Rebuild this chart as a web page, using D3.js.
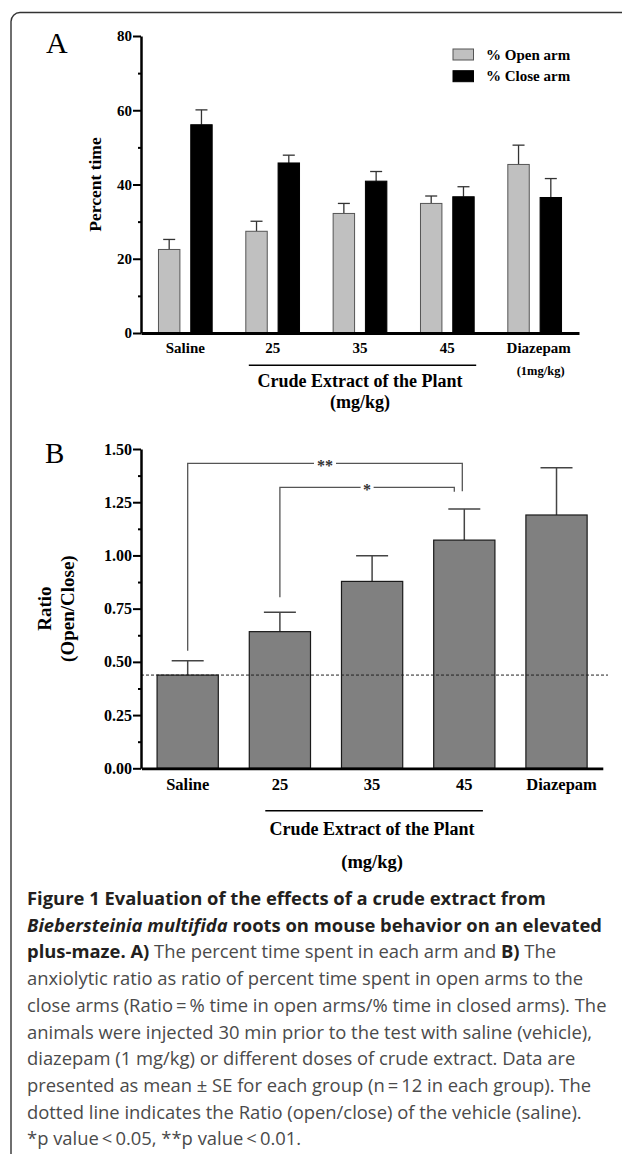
<!DOCTYPE html>
<html>
<head>
<meta charset="utf-8">
<script src="https://cdn.jsdelivr.net/npm/d3@7"></script>
<style>
  body { margin: 0; background: #fff; }
  svg { display: block; }
  .ser { font-family: "Liberation Serif", "Times New Roman", serif; font-weight: bold; fill: #000; }
  .axis path, .axis line { stroke: #000; }
  .axis text { font-family: "Liberation Serif", "Times New Roman", serif; font-weight: bold; fill: #000; }
  .cap { font-family: "Open Sans", "Noto Sans", sans-serif; }
</style>
</head>
<body>
<svg id="fig" width="622" height="1154"></svg>
<script>
// ── Data ──────────────────────────────────────────────────────────────────
// Panel A: percent time in each arm
const groupsA   = ['Saline', '25', '35', '45', 'Diazepam'];
const seriesA   = ['% Open arm', '% Close arm'];
const openMean  = [22.5, 27.4, 32.2, 34.9, 45.4];
const openSE    = [2.7, 2.7, 2.7, 2.0, 5.2];
const closeMean = [56.1, 45.8, 40.9, 36.7, 36.5];
const closeSE   = [4.0, 2.1, 2.6, 2.7, 5.1];
const yTicksA   = [0, 20, 40, 60, 80];
const yMinorA   = [10, 30, 50, 70];

// Panel B: ratio open / close
const groupsB   = ['Saline', '25', '35', '45', 'Diazepam'];
const ratioMean = [0.438, 0.642, 0.878, 1.072, 1.190];
const ratioSE   = [0.067, 0.091, 0.121, 0.146, 0.222];
const yTicksB   = [0, 0.25, 0.5, 0.75, 1.0, 1.25, 1.5];
const yMinorB   = [0.125, 0.375, 0.625, 0.875, 1.125, 1.375];
const vehicleRatio = 0.438;
// significance brackets: level of bar, where each leg stops
const comparisons = [
  { a: 'Saline', b: '45', label: '**', level: 1.432, aEnd: 0.552, bEnd: 1.302, bShift: -2 },
  { a: '25',     b: '45', label: '*',  level: 1.320, aEnd: 0.803, bEnd: 1.299, bShift: -10 }
];

// Caption lines: [text, style]  b = bold, bi = bold italic, n = normal
const captionLines = [
  [['Figure 1 Evaluation of the effects of a crude extract from', 'b']],
  [['Biebersteinia multifida', 'bi'], [' roots on mouse behavior on an elevated', 'b']],
  [['plus-maze. A)', 'b'], [' The percent time spent in each arm and ', 'n'], ['B)', 'b'], [' The', 'n']],
  [['anxiolytic ratio as ratio of percent time spent in open arms to the', 'n']],
  [['close arms (Ratio\u2009=\u2009% time in open arms/% time in closed arms). The', 'n']],
  [['animals were injected 30 min prior to the test with saline (vehicle),', 'n']],
  [['diazepam (1 mg/kg) or different doses of crude extract. Data are', 'n']],
  [['presented as mean \u00b1 SE for each group (n\u2009=\u200912 in each group). The', 'n']],
  [['dotted line indicates the Ratio (open/close) of the vehicle (saline).', 'n']],
  [['*p value\u2009<\u20090.05, **p value\u2009<\u20090.01.', 'n']]
];

const svg = d3.select('#fig');

// outer frame (rounded, runs off right and bottom)
svg.append('rect')
  .attr('x', 11).attr('y', 12.5)
  .attr('width', 650).attr('height', 1200)
  .attr('rx', 9)
  .attr('fill', 'none')
  .attr('stroke', '#333')
  .attr('stroke-width', 1.4);

// ── Panel A ───────────────────────────────────────────────────────────────

const xA = d3.scaleBand().domain(groupsA).range([141, 579]).paddingInner(0.385).paddingOuter(0.2);
const xAi = d3.scaleBand().domain(seriesA).range([0, xA.bandwidth()]).paddingInner(0.336);
const yA = d3.scaleLinear().domain([0, 80]).range([333, 36]);

svg.append('text').attr('class', 'ser').attr('x', 46).attr('y', 53)
  .style('font-weight', 'normal').style('font-size', '30px').text('A');

const rowsA = groupsA.map((g, i) => [
  { g, s: seriesA[0], v: openMean[i],  e: openSE[i] },
  { g, s: seriesA[1], v: closeMean[i], e: closeSE[i] }
]).flat();

const fillA = d3.scaleOrdinal().domain(seriesA).range(['#c0c0c0', '#000']);

// error bars (upper only)
const errA = svg.append('g');
rowsA.forEach(d => {
  const cx = xA(d.g) + xAi(d.s) + xAi.bandwidth() / 2;
  errA.append('line').attr('x1', cx).attr('x2', cx)
    .attr('y1', yA(d.v)).attr('y2', yA(d.v + d.e))
    .attr('stroke', '#333').attr('stroke-width', 1.3);
  errA.append('line').attr('x1', cx - 6).attr('x2', cx + 6)
    .attr('y1', yA(d.v + d.e)).attr('y2', yA(d.v + d.e))
    .attr('stroke', '#333').attr('stroke-width', 1.3);
});

svg.append('g').selectAll('rect')
  .data(rowsA).enter().append('rect')
  .attr('x', d => xA(d.g) + xAi(d.s))
  .attr('y', d => yA(d.v))
  .attr('width', xAi.bandwidth())
  .attr('height', d => yA(0) - yA(d.v))
  .attr('fill', d => fillA(d.s))
  .attr('stroke', d => d.s === seriesA[0] ? '#555' : '#000')
  .attr('stroke-width', 1);

// axes
svg.append('g').attr('class', 'axis')
  .attr('transform', 'translate(141,0)')
  .call(d3.axisLeft(yA).tickValues(yMinorA).tickSize(3).tickSizeOuter(0).tickFormat(''))
  .call(g => g.select('.domain').remove())
  .selectAll('line').attr('stroke-width', 2);

svg.append('g').attr('class', 'axis')
  .attr('transform', 'translate(141,0)')
  .call(d3.axisLeft(yA).tickValues(yTicksA).tickSize(8).tickSizeOuter(0).tickPadding(1))
  .call(g => g.select('.domain').attr('stroke-width', 2.5))
  .call(g => g.selectAll('line').attr('stroke-width', 2))
  .selectAll('text').style('font-size', '15px');

svg.append('g').attr('class', 'axis')
  .attr('transform', `translate(0,${yA(0)})`)
  .call(d3.axisBottom(xA).tickSize(0).tickSizeOuter(0).tickPadding(9.5))
  .call(g => g.select('.domain').attr('stroke-width', 2.8))
  .selectAll('text').style('font-size', '15px')
  .attr('dx', d => d === 'Diazepam' ? 4 : 0);

svg.append('text').attr('class', 'ser')
  .attr('x', xA('Diazepam') + xA.bandwidth() / 2 + 6).attr('y', 375)
  .attr('text-anchor', 'middle').style('font-size', '12.5px').text('(1mg/kg)');

svg.append('line')
  .attr('x1', xA('25') + 3).attr('x2', xA('45') + xA.bandwidth() + 2)
  .attr('y1', 365.3).attr('y2', 365.3)
  .attr('stroke', '#000').attr('stroke-width', 1.6);

const midA = (xA('25') + xA('45') + xA.bandwidth()) / 2;
svg.append('text').attr('class', 'ser').attr('x', midA).attr('y', 386.7)
  .attr('text-anchor', 'middle').style('font-size', '18px').text('Crude Extract of the Plant');
svg.append('text').attr('class', 'ser').attr('x', midA).attr('y', 408)
  .attr('text-anchor', 'middle').style('font-size', '18px').text('(mg/kg)');

svg.append('text').attr('class', 'ser')
  .attr('transform', `translate(101,${(yA(0) + yA(80)) / 2}) rotate(-90)`)
  .attr('text-anchor', 'middle').style('font-size', '17.5px').text('Percent time');

// legend
const legA = svg.append('g').attr('transform', 'translate(453,49)');
seriesA.forEach((s, i) => {
  legA.append('rect').attr('x', 0).attr('y', i * 21.7)
    .attr('width', 20.5).attr('height', 11)
    .attr('fill', fillA(s)).attr('stroke', i === 0 ? '#555' : '#000').attr('stroke-width', 1);
  legA.append('text').attr('class', 'ser').attr('x', 33).attr('y', i * 21.7 + 10.5)
    .style('font-size', '15px').text(s);
});

// ── Panel B ───────────────────────────────────────────────────────────────

const xB = d3.scaleBand().domain(groupsB).range([141.4, 602.8]).paddingInner(0.336).paddingOuter(0.17);
const yB = d3.scaleLinear().domain([0, 1.5]).range([768.3, 449]);

svg.append('text').attr('class', 'ser').attr('x', 45).attr('y', 463)
  .style('font-weight', 'normal').style('font-size', '29px').text('B');

const rowsB = groupsB.map((g, i) => ({ g, v: ratioMean[i], e: ratioSE[i] }));

const errB = svg.append('g');
rowsB.forEach(d => {
  const cx = xB(d.g) + xB.bandwidth() / 2;
  errB.append('line').attr('x1', cx).attr('x2', cx)
    .attr('y1', yB(d.v)).attr('y2', yB(d.v + d.e))
    .attr('stroke', '#444').attr('stroke-width', 1.5);
  errB.append('line').attr('x1', cx - 16).attr('x2', cx + 16)
    .attr('y1', yB(d.v + d.e)).attr('y2', yB(d.v + d.e))
    .attr('stroke', '#444').attr('stroke-width', 1.5);
});

svg.append('g').selectAll('rect')
  .data(rowsB).enter().append('rect')
  .attr('x', d => xB(d.g))
  .attr('y', d => yB(d.v))
  .attr('width', xB.bandwidth())
  .attr('height', d => yB(0) - yB(d.v))
  .attr('fill', '#808080')
  .attr('stroke', '#1a1a1a')
  .attr('stroke-width', 1.2);

// dotted vehicle line
svg.append('line')
  .attr('x1', 141).attr('x2', 608)
  .attr('y1', yB(vehicleRatio)).attr('y2', yB(vehicleRatio))
  .attr('stroke', '#222').attr('stroke-width', 1)
  .attr('stroke-dasharray', '3,2');

// significance brackets
comparisons.forEach(c => {
  const xa = xB(c.a) + xB.bandwidth() / 2;
  const xb = xB(c.b) + xB.bandwidth() / 2 + c.bShift;
  const yl = yB(c.level);
  svg.append('path')
    .attr('d', `M${xa},${yB(c.aEnd)}V${yl}H${xb}V${yB(c.bEnd)}`)
    .attr('fill', 'none').attr('stroke', '#555').attr('stroke-width', 1.3);
  const mx = (xa + xb) / 2;
  svg.append('rect').attr('x', mx - c.label.length * 4.5 - 2).attr('y', yl - 3)
    .attr('width', c.label.length * 9 + 4).attr('height', 6).attr('fill', '#fff');
  svg.append('text').attr('class', 'ser').attr('x', mx).attr('y', yl + 8)
    .attr('text-anchor', 'middle').style('font-size', '16px').style('fill', '#333')
    .text(c.label);
});

// axes
svg.append('g').attr('class', 'axis')
  .attr('transform', 'translate(141,0)')
  .call(d3.axisLeft(yB).tickValues(yMinorB).tickSize(3).tickSizeOuter(0).tickFormat(''))
  .call(g => g.select('.domain').remove())
  .selectAll('line').attr('stroke-width', 2);

svg.append('g').attr('class', 'axis')
  .attr('transform', 'translate(141,0)')
  .call(d3.axisLeft(yB).tickValues(yTicksB).tickSize(8).tickSizeOuter(0).tickPadding(1)
    .tickFormat(d3.format('.2f')))
  .call(g => g.select('.domain').attr('stroke-width', 2.5))
  .call(g => g.selectAll('line').attr('stroke-width', 2))
  .selectAll('text').style('font-size', '16px');

svg.append('g').attr('class', 'axis')
  .attr('transform', `translate(0,${yB(0)})`)
  .call(d3.axisBottom(xB).tickSize(0).tickSizeOuter(0).tickPadding(9.7))
  .call(g => g.select('.domain').attr('stroke-width', 2.8))
  .selectAll('text').style('font-size', '16.5px')
  .attr('dx', d => d === 'Diazepam' ? 5 : 0);

svg.append('line')
  .attr('x1', xB('25') + 16).attr('x2', xB('45') + xB.bandwidth() - 12)
  .attr('y1', 810.7).attr('y2', 810.7)
  .attr('stroke', '#000').attr('stroke-width', 1.6);

const midB = (xB('25') + xB('45') + xB.bandwidth()) / 2;
svg.append('text').attr('class', 'ser').attr('x', midB).attr('y', 835)
  .attr('text-anchor', 'middle').style('font-size', '18px').text('Crude Extract of the Plant');
svg.append('text').attr('class', 'ser').attr('x', midB).attr('y', 868)
  .attr('text-anchor', 'middle').style('font-size', '18.5px').text('(mg/kg)');

const yMidB = (yB(0) + yB(1.5)) / 2;
svg.append('text').attr('class', 'ser')
  .attr('transform', `translate(51,${yMidB}) rotate(-90)`)
  .attr('text-anchor', 'middle').style('font-size', '19px').text('Ratio');
svg.append('text').attr('class', 'ser')
  .attr('transform', `translate(73.5,${yMidB}) rotate(-90)`)
  .attr('text-anchor', 'middle').style('font-size', '19px').text('(Open/Close)');

// ── Caption ───────────────────────────────────────────────────────────────

const cap = svg.append('g').attr('class', 'cap');
captionLines.forEach((line, i) => {
  const t = cap.append('text').attr('x', 27).attr('y', 905 + i * 26.7)
    .style('font-size', '18.4px');
  line.forEach(([str, st]) => {
    t.append('tspan')
      .style('font-weight', st === 'n' ? 'normal' : 'bold')
      .style('font-style', st === 'bi' ? 'italic' : 'normal')
      .style('fill', st === 'n' ? '#4a4a4a' : '#231f20')
      .text(str);
  });
});
</script>
</body>
</html>
